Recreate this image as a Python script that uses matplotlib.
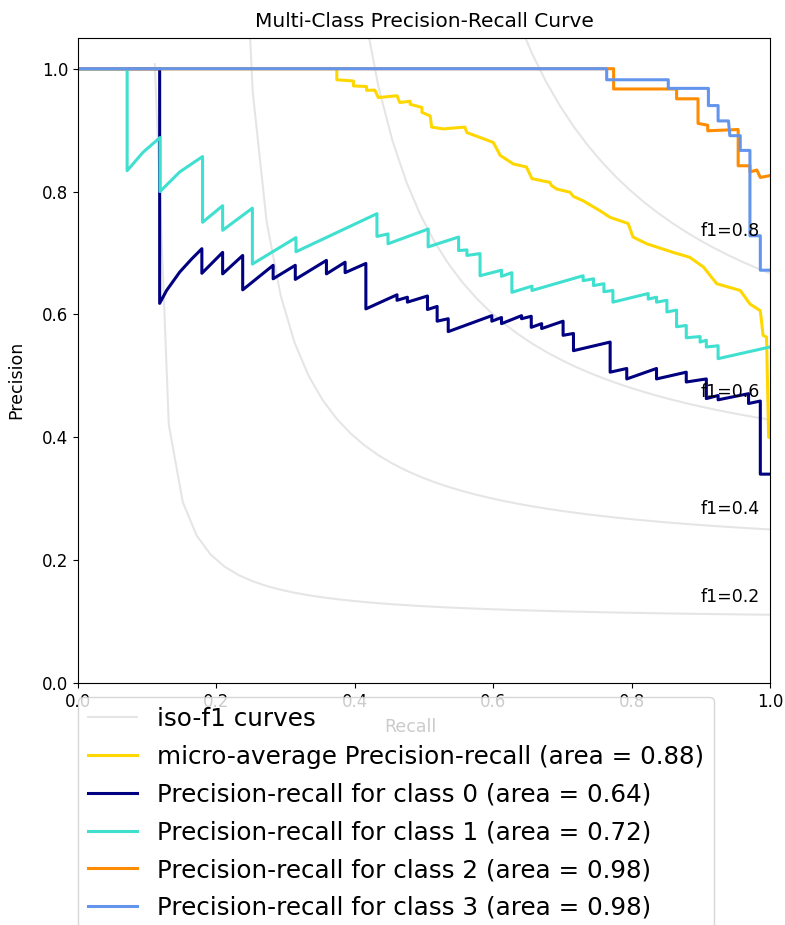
import numpy as np
import matplotlib
matplotlib.use('Agg')
import matplotlib.pyplot as plt

# iso-f1 reference levels
f_scores = [0.2, 0.4, 0.6, 0.8]

# micro-average curve (recall, precision)
recall_micro = [0.0, 0.374, 0.374, 0.398, 0.398, 0.417, 0.417, 0.429, 0.434, 0.461, 0.465,
                0.480, 0.480, 0.497, 0.497, 0.509, 0.511, 0.528, 0.559, 0.562, 0.586, 0.600,
                0.603, 0.610, 0.629, 0.648, 0.656, 0.682, 0.684, 0.692, 0.711, 0.716, 0.730,
                0.754, 0.769, 0.795, 0.802, 0.822, 0.860, 0.884, 0.904, 0.923, 0.957, 0.971,
                0.986, 0.990, 0.995, 0.998, 1.0]
precision_micro = [1.0, 1.0, 0.982, 0.980, 0.972, 0.971, 0.965, 0.965, 0.953, 0.956, 0.945,
                   0.947, 0.942, 0.937, 0.929, 0.923, 0.905, 0.902, 0.905, 0.896, 0.886, 0.880,
                   0.874, 0.859, 0.845, 0.840, 0.821, 0.815, 0.810, 0.804, 0.799, 0.792, 0.785,
                   0.769, 0.758, 0.748, 0.726, 0.715, 0.701, 0.693, 0.677, 0.650, 0.639, 0.617,
                   0.606, 0.566, 0.563, 0.400, 0.400]

# class 0
recall_0 = [0.0, 0.118, 0.118, 0.128, 0.147, 0.164, 0.179, 0.179, 0.209, 0.209, 0.238, 0.238,
            0.282, 0.282, 0.314, 0.314, 0.359, 0.359, 0.386, 0.386, 0.416, 0.416, 0.461, 0.461,
            0.476, 0.476, 0.505, 0.505, 0.519, 0.519, 0.535, 0.535, 0.598, 0.598, 0.612, 0.612,
            0.641, 0.641, 0.655, 0.655, 0.670, 0.670, 0.701, 0.701, 0.716, 0.716, 0.769, 0.769,
            0.793, 0.793, 0.836, 0.836, 0.879, 0.879, 0.908, 0.908, 0.925, 0.925, 0.969, 0.969,
            0.986, 0.986, 1.0]
precision_0 = [1.0, 1.0, 0.618, 0.639, 0.669, 0.690, 0.707, 0.667, 0.701, 0.666, 0.696, 0.640,
               0.680, 0.658, 0.680, 0.657, 0.688, 0.666, 0.685, 0.668, 0.683, 0.609, 0.632, 0.623,
               0.628, 0.620, 0.630, 0.608, 0.613, 0.589, 0.593, 0.572, 0.598, 0.589, 0.595, 0.585,
               0.598, 0.593, 0.597, 0.579, 0.585, 0.577, 0.589, 0.566, 0.569, 0.541, 0.555, 0.506,
               0.512, 0.495, 0.512, 0.495, 0.506, 0.490, 0.495, 0.463, 0.468, 0.461, 0.471, 0.455,
               0.459, 0.340, 0.340]

# class 1
recall_1 = [0.0, 0.071, 0.071, 0.094, 0.1185, 0.1185, 0.147, 0.180, 0.180, 0.209, 0.209, 0.252,
            0.252, 0.315, 0.315, 0.432, 0.432, 0.448, 0.448, 0.506, 0.506, 0.550, 0.550, 0.562,
            0.562, 0.581, 0.581, 0.612, 0.612, 0.627, 0.627, 0.656, 0.656, 0.730, 0.730, 0.745,
            0.745, 0.760, 0.760, 0.773, 0.773, 0.824, 0.824, 0.836, 0.836, 0.851, 0.851, 0.865,
            0.865, 0.879, 0.879, 0.899, 0.899, 0.908, 0.908, 0.925, 0.925, 1.0]
precision_1 = [1.0, 1.0, 0.834, 0.864, 0.888, 0.800, 0.832, 0.857, 0.750, 0.777, 0.737, 0.773,
               0.682, 0.725, 0.702, 0.764, 0.727, 0.731, 0.715, 0.739, 0.710, 0.726, 0.704, 0.705,
               0.696, 0.699, 0.663, 0.672, 0.662, 0.668, 0.636, 0.646, 0.639, 0.663, 0.655, 0.658,
               0.647, 0.650, 0.637, 0.639, 0.620, 0.634, 0.625, 0.628, 0.620, 0.623, 0.604, 0.607,
               0.580, 0.582, 0.562, 0.564, 0.555, 0.558, 0.547, 0.549, 0.528, 0.547]

# class 2
recall_2 = [0.0, 0.774, 0.774, 0.865, 0.865, 0.896, 0.896, 0.910, 0.910, 0.954, 0.954, 0.971,
            0.971, 0.981, 0.986, 1.0]
precision_2 = [1.0, 1.0, 0.967, 0.967, 0.951, 0.951, 0.911, 0.908, 0.899, 0.901, 0.842, 0.842,
               0.832, 0.835, 0.823, 0.826]

# class 3
recall_3 = [0.0, 0.764, 0.764, 0.853, 0.853, 0.911, 0.911, 0.925, 0.925, 0.940, 0.942, 0.957,
            0.957, 0.971, 0.971, 0.986, 0.986, 1.0]
precision_3 = [1.0, 1.0, 0.982, 0.982, 0.968, 0.968, 0.940, 0.940, 0.915, 0.915, 0.891, 0.891,
               0.867, 0.867, 0.728, 0.728, 0.672, 0.672]

areas = [0.64, 0.72, 0.98, 0.98]
area_micro = 0.88
colors = ['navy', 'turquoise', 'darkorange', 'cornflowerblue']

fig = plt.figure(figsize=(7.85, 9.25), dpi=100)
ax = fig.add_axes([78 / 785, 1 - 683 / 925, 692 / 785, 645 / 925])

lines = []
labels = []

# iso-f1 curves
for f_score in f_scores:
    x = np.linspace(0.01, 1)
    y = f_score * x / (2 * x - f_score)
    l, = ax.plot(x[y >= 0], y[y >= 0], color='gray', alpha=0.2, lw=1.5)
    ax.annotate('f1={0:0.1f}'.format(f_score), xy=(0.9, y[45] + 0.02), fontsize=12.5)
lines.append(l)
labels.append('iso-f1 curves')

l, = ax.plot(recall_micro, precision_micro, color='gold', lw=2.2)
lines.append(l)
labels.append('micro-average Precision-recall (area = {0:0.2f})'.format(area_micro))

class_recalls = [recall_0, recall_1, recall_2, recall_3]
class_precisions = [precision_0, precision_1, precision_2, precision_3]
for i, color in enumerate(colors):
    l, = ax.plot(class_recalls[i], class_precisions[i], color=color, lw=2.2)
    lines.append(l)
    labels.append('Precision-recall for class {0} (area = {1:0.2f})'.format(i, areas[i]))

ax.set_xlim([0.0, 1.0])
ax.set_ylim([0.0, 1.05])
ax.set_xticks([0.0, 0.2, 0.4, 0.6, 0.8, 1.0])
ax.set_yticks([0.0, 0.2, 0.4, 0.6, 0.8, 1.0])
ax.tick_params(labelsize=12)
ax.set_xlabel('Recall', fontsize=12.5)
ax.set_ylabel('Precision', fontsize=12.5)
ax.xaxis.set_label_coords(0.48, -0.054)
ax.yaxis.set_label_coords(-0.076, 0.47)
ax.set_title('Multi-Class Precision-Recall Curve', fontsize=14.5, pad=8)
ax.legend(lines, labels, loc='upper left', bbox_to_anchor=(0, -0.022),
          borderaxespad=0, prop=dict(size=17.7), labelspacing=0.56)

fig.savefig('out.png', dpi=100)
